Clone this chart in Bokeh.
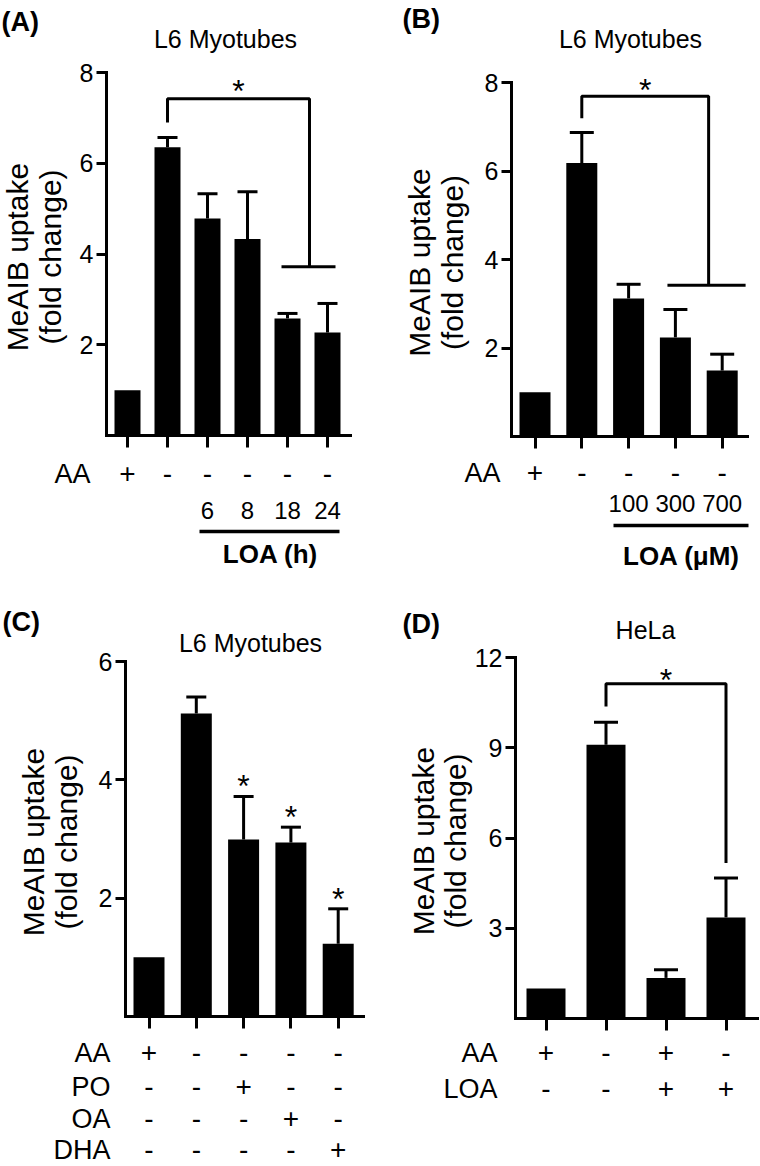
import math
from bokeh.plotting import figure
from bokeh.models import Range1d, LinearAxis, FixedTicker
from bokeh.layouts import column, row
from bokeh.core.properties import value
from bokeh.embed import file_html
from bokeh.resources import INLINE

FONT = "Liberation Sans"

# ---------------- data ----------------
# Panel A : L6 myotubes, LOA time course
a_means = [1.0, 6.35, 4.78, 4.33, 2.58, 2.27]
a_sems = [0.0, 0.22, 0.55, 1.04, 0.11, 0.64]
a_aa = ["+", "-", "-", "-", "-", "-"]
a_hours = ["", "", "6", "8", "18", "24"]
a_yticks = [2, 4, 6, 8]
a_br_x = [2, 2, 5.55, 5.55]
a_br_y = [6.9, 7.42, 7.42, 3.72]
a_grp_x = [4.85, 6.2]
a_grp_y = [3.72, 3.72]

# Panel B : L6 myotubes, LOA dose
b_means = [1.0, 6.18, 3.12, 2.24, 1.49]
b_sems = [0.0, 0.69, 0.32, 0.63, 0.37]
b_aa = ["+", "-", "-", "-", "-"]
b_doses = ["", "", "100", "300", "700"]
b_yticks = [2, 4, 6, 8]
b_br_x = [2, 2, 4.71, 4.71]
b_br_y = [7.19, 7.69, 7.69, 3.42]
b_grp_x = [3.83, 5.5]
b_grp_y = [3.42, 3.42]

# Panel C : L6 myotubes, other fatty acids
c_means = [1.0, 5.12, 2.99, 2.94, 1.23]
c_sems = [0.0, 0.28, 0.73, 0.26, 0.59]
c_rows = ["AA", "PO", "OA", "DHA"]
c_aa = ["+", "-", "-", "-", "-"]
c_po = ["-", "-", "+", "-", "-"]
c_oa = ["-", "-", "-", "+", "-"]
c_dha = ["-", "-", "-", "-", "+"]
c_sig = [False, False, True, True, True]
c_yticks = [2, 4, 6]

# Panel D : HeLa
d_means = [1.0, 9.1, 1.35, 3.36]
d_sems = [0.0, 0.75, 0.27, 1.31]
d_rows = ["AA", "LOA"]
d_aa = ["+", "-", "+", "-"]
d_loa = ["-", "-", "+", "+"]
d_yticks = [3, 6, 9, 12]
d_br_x = [2, 2, 4, 4]
d_br_y = [10.37, 11.13, 11.13, 5.17]

# ---------------- layout (picture pixels) ----------------
GA = dict(ox=0, oy=0, w=380, h=580, x1=127, dx=40, axis_x=106, axis_end=350,
          y0=435, ytop=72, ymax=8, bar_px=26, cap_px=20)
GB = dict(ox=380, oy=0, w=380, h=580, x1=534.5, dx=46.8, axis_x=511, axis_end=747,
          y0=436, ytop=82, ymax=8, bar_px=31, cap_px=24)
GC = dict(ox=0, oy=580, w=380, h=586, x1=148.5, dx=47.3, axis_x=125, axis_end=363,
          y0=1016, ytop=661, ymax=6, bar_px=31, cap_px=20)
GD = dict(ox=380, oy=580, w=380, h=586, x1=545.5, dx=60, axis_x=515, axis_end=757,
          y0=1018, ytop=657, ymax=12, bar_px=39, cap_px=24)

LW = 3
TICK_FS = 25
TITLE_FS = 25
YLAB_FS = 30
SIGN_FS = 28
ROWLAB_FS = 27
NUM_FS = 24
LOA_FS = 26
LETTER_FS = 27
STAR_FS = 32


def txt(p, xs, ys, texts, size, align="center", style="normal", angle=0.0):
    p.text(x=xs, y=ys, text=texts, text_font=value(FONT),
           text_font_size=value("%dpx" % size),
           text_font_style=value(style), text_align=value(align),
           text_baseline=value("middle"), text_color="black", angle=angle)


def make_panel(g, means, sems, yticks, letter, letter_xy, title, title_xy, ylab_x):
    ppy = (g["y0"] - g["ytop"]) / g["ymax"]

    def X(px):
        return 1 + (px - g["x1"]) / g["dx"]

    def Y(py):
        return (g["y0"] - py) / ppy

    p = figure(width=g["w"], height=g["h"],
               x_range=Range1d(X(g["ox"]), X(g["ox"] + g["w"])),
               y_range=Range1d(Y(g["oy"] + g["h"]), Y(g["oy"])),
               x_axis_type=None, y_axis_type=None, min_border=0,
               toolbar_location=None, output_backend="svg",
               outline_line_color=None, background_fill_color="white",
               border_fill_color="white")

    n = len(means)
    xs = list(range(1, n + 1))
    p.vbar(x=xs, top=means, bottom=0, width=g["bar_px"] / g["dx"],
           fill_color="black", line_color=None)

    ex = [x for x, s in zip(xs, sems) if s > 0]
    elo = [m for m, s in zip(means, sems) if s > 0]
    ehi = [m + s for m, s in zip(means, sems) if s > 0]
    half = g["cap_px"] / 2 / g["dx"]
    p.segment(x0=ex, y0=elo, x1=ex, y1=ehi, line_color="black", line_width=LW)
    p.segment(x0=[x - half for x in ex], y0=ehi, x1=[x + half for x in ex], y1=ehi,
              line_color="black", line_width=LW)

    yax = LinearAxis(fixed_location=X(g["axis_x"]), bounds=(0, g["ymax"]),
                     ticker=FixedTicker(ticks=yticks),
                     axis_line_width=LW, axis_line_color="black", axis_line_cap="square",
                     major_tick_line_width=LW, major_tick_line_color="black",
                     major_tick_out=10, major_tick_in=0,
                     minor_tick_out=0, minor_tick_in=0,
                     major_label_standoff=3,
                     major_label_text_font=FONT,
                     major_label_text_font_size="%dpx" % TICK_FS,
                     major_label_text_color="black")
    p.add_layout(yax, "left")
    xax = LinearAxis(fixed_location=0, bounds=(X(g["axis_x"]), X(g["axis_end"])),
                     ticker=FixedTicker(ticks=xs),
                     axis_line_width=LW, axis_line_color="black", axis_line_cap="square",
                     major_tick_line_width=LW, major_tick_line_color="black",
                     major_tick_out=12, major_tick_in=0,
                     minor_tick_out=0, minor_tick_in=0,
                     major_label_text_color=None)
    p.add_layout(xax, "below")

    # y-axis title (two lines, rotated)
    yc = Y((g["ytop"] + g["y0"]) / 2 + 3)
    txt(p, [X(ylab_x[0])], [yc], ["MeAIB uptake"], YLAB_FS, angle=math.pi / 2)
    txt(p, [X(ylab_x[1])], [yc], ["(fold change)"], YLAB_FS, angle=math.pi / 2)

    txt(p, [X(letter_xy[0])], [Y(letter_xy[1])], [letter], LETTER_FS,
        align="left", style="bold")
    txt(p, [X(title_xy[0])], [Y(title_xy[1])], [title], TITLE_FS)
    return p, X, Y, ppy, xs


def star(p, x, y_data, ppy, gap_px):
    txt(p, [x], [y_data + gap_px / ppy], ["*"], STAR_FS)


def sign_row(p, X, Y, label, label_right, xs, signs, cy):
    txt(p, [X(label_right)], [Y(cy)], [label], ROWLAB_FS, align="right")
    txt(p, xs, [Y(cy)] * len(xs), signs, SIGN_FS)


# ---------------- Panel A ----------------
pa, XA, YA, ppyA, xsA = make_panel(GA, a_means, a_sems, a_yticks, "(A)", (1, 21),
                                   "L6 Myotubes", (225, 38), (17, 50))
pa.line(x=a_br_x, y=a_br_y, line_color="black", line_width=LW)
pa.line(x=a_grp_x, y=a_grp_y, line_color="black", line_width=LW)
star(pa, (a_br_x[1] + a_br_x[2]) / 2, a_br_y[1], ppyA, 8)
sign_row(pa, XA, YA, "AA", 90, xsA, a_aa, 473)
hx = [x for x, h in zip(xsA, a_hours) if h]
txt(pa, hx, [YA(510)] * len(hx), [h for h in a_hours if h], NUM_FS)
pa.segment(x0=[XA(199)], y0=[YA(531)], x1=[XA(339)], y1=[YA(531)],
           line_color="black", line_width=3.5)
txt(pa, [XA(270)], [YA(553)], ["LOA (h)"], LOA_FS, style="bold")

# ---------------- Panel B ----------------
pb, XB, YB, ppyB, xsB = make_panel(GB, b_means, b_sems, b_yticks, "(B)", (402, 18),
                                   "L6 Myotubes", (630, 38), (419, 452))
pb.line(x=b_br_x, y=b_br_y, line_color="black", line_width=LW)
pb.line(x=b_grp_x, y=b_grp_y, line_color="black", line_width=LW)
star(pb, (b_br_x[1] + b_br_x[2]) / 2, b_br_y[1], ppyB, 6)
sign_row(pb, XB, YB, "AA", 500, xsB, b_aa, 472)
dx_ = [x for x, d in zip(xsB, b_doses) if d]
txt(pb, dx_, [YB(503)] * len(dx_), [d for d in b_doses if d], NUM_FS)
pb.segment(x0=[XB(613)], y0=[YB(525)], x1=[XB(748)], y1=[YB(525)],
           line_color="black", line_width=3.5)
txt(pb, [XB(681)], [YB(555)], ["LOA (\u03bcM)"], LOA_FS, style="bold")

# ---------------- Panel C ----------------
pc, XC, YC, ppyC, xsC = make_panel(GC, c_means, c_sems, c_yticks, "(C)", (2, 621),
                                   "L6 Myotubes", (250, 642), (33, 66))
for x, m, s, sig in zip(xsC, c_means, c_sems, c_sig):
    if sig:
        star(pc, x, m + s, ppyC, 10)
c_row_y = [1052, 1086, 1118, 1149]
for lab, signs, cy in zip(c_rows, [c_aa, c_po, c_oa, c_dha], c_row_y):
    sign_row(pc, XC, YC, lab, 110, xsC, signs, cy)

# ---------------- Panel D ----------------
pd_, XD, YD, ppyD, xsD = make_panel(GD, d_means, d_sems, d_yticks, "(D)", (402, 623),
                                    "HeLa", (645, 629), (423, 455))
pd_.line(x=d_br_x, y=d_br_y, line_color="black", line_width=LW)
star(pd_, (d_br_x[1] + d_br_x[2]) / 2, d_br_y[1], ppyD, 4)
for lab, signs, cy in zip(d_rows, [d_aa, d_loa], [1052, 1088]):
    sign_row(pd_, XD, YD, lab, 497, xsD, signs, cy)

layout = column(row(pa, pb), row(pc, pd_))
open("out.html", "w").write(file_html(layout, INLINE))
